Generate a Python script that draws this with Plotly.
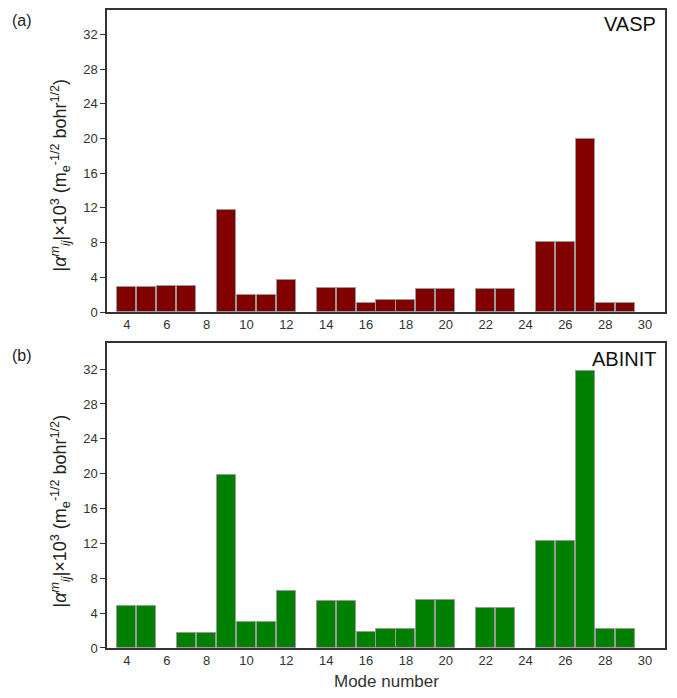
import plotly.graph_objects as go
from plotly.subplots import make_subplots

modes = list(range(4, 31))
vasp = [2.9, 2.9, 2.95, 2.95, None, 11.8, 2.0, 2.0, 3.7, None, 2.8, 2.8, 1.1, 1.4, 1.4,
        2.7, 2.7, None, 2.7, 2.7, None, 8.1, 8.1, 19.9, 1.0, 1.0, None]
abinit = [4.8, 4.8, None, 1.7, 1.7, 19.8, 3.0, 3.0, 6.6, None, 5.4, 5.4, 1.8, 2.2, 2.2,
          5.5, 5.5, None, 4.6, 4.6, None, 12.3, 12.3, 31.8, 2.2, 2.2, None]
xticks = list(range(4, 31, 2))
yticks = list(range(0, 33, 4))

# page body has an 8px margin: work in reference (screen) pixels, offset by 8
OFF = 8
W, H = 677 - OFF, 698 - OFF
L = 107 - OFF
R = 677 - 665
T = 0
B = H - (648 - OFF)
ph = H - T - B
pw = W - L - R

def fy(ypx):
    return (H - B - (ypx - OFF)) / ph

def fx(xpx):
    return ((xpx - OFF) - L) / pw

fig = make_subplots(rows=2, cols=1, vertical_spacing=0.05)
fig.add_trace(go.Bar(x=modes, y=vasp, width=0.96,
                     marker=dict(color="#800000", line=dict(color="#9a9a9a", width=1)),
                     showlegend=False), row=1, col=1)
fig.add_trace(go.Bar(x=modes, y=abinit, width=0.96,
                     marker=dict(color="#008000", line=dict(color="#9a9a9a", width=1)),
                     showlegend=False), row=2, col=1)

font = "Liberation Sans, Arial, sans-serif"
axcommon = dict(showline=True, linecolor="#333", linewidth=1.5, mirror=True,
                showgrid=False, zeroline=False,
                tickfont=dict(size=13, color="#333", family=font))
fig.update_xaxes(range=[3, 31], tickvals=xticks, ticks="", **axcommon)
fig.update_yaxes(tickvals=yticks, ticks="outside", ticklen=5, tickcolor="#333", **axcommon)
fig.update_layout(
    xaxis=dict(domain=[0, 1]), xaxis2=dict(domain=[0, 1]),
    yaxis=dict(domain=[fy(311), 1.0], range=[0, 34.8]),
    yaxis2=dict(domain=[0, fy(342)], range=[0, 35]),
)

ytitle = ("|<i>α</i><sup><i>m</i></sup><sub><i>ij</i></sub>|×10<sup>3</sup> "
          "(m<sub>e</sub><sup>-1/2</sup> bohr<sup>1/2</sup>)")
ann = []
for ycen in (174, 511):
    ann.append(dict(text=ytitle, xref="paper", yref="paper", x=fx(60), y=fy(ycen),
                    textangle=-90, showarrow=False, xanchor="center", yanchor="middle",
                    font=dict(size=18, color="#222", family=font)))
ann.append(dict(text="(a)", xref="paper", yref="paper", x=fx(10), y=fy(19),
                showarrow=False, xanchor="left", yanchor="middle",
                font=dict(size=16, color="#222", family=font)))
ann.append(dict(text="(b)", xref="paper", yref="paper", x=fx(10), y=fy(355),
                showarrow=False, xanchor="left", yanchor="middle",
                font=dict(size=16, color="#222", family=font)))
ann.append(dict(text="VASP", xref="paper", yref="paper", x=fx(658), y=fy(22),
                showarrow=False, xanchor="right", yanchor="middle",
                font=dict(size=20, color="#111", family=font)))
ann.append(dict(text="ABINIT", xref="paper", yref="paper", x=fx(658), y=fy(358),
                showarrow=False, xanchor="right", yanchor="middle",
                font=dict(size=20, color="#111", family=font)))
ann.append(dict(text="Mode number", xref="paper", yref="paper", x=fx(386), y=fy(682),
                showarrow=False, xanchor="center", yanchor="middle",
                font=dict(size=17, color="#333", family=font)))

fig.update_layout(width=W, height=H, margin=dict(l=L, r=R, t=T, b=B),
                  paper_bgcolor="white", plot_bgcolor="white",
                  annotations=ann, bargap=0)
fig.write_html("out.html")
